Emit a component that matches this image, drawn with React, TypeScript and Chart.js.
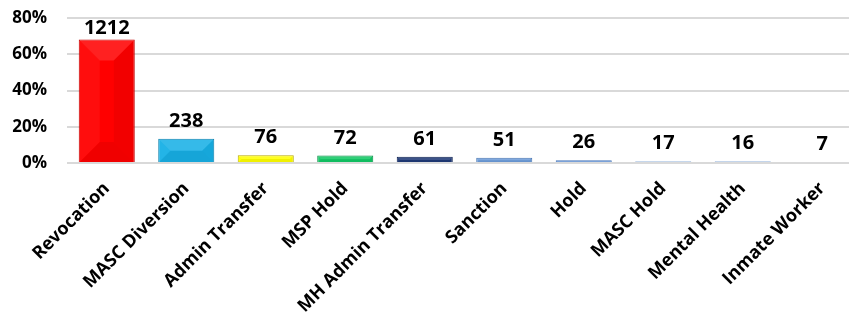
import React, { useEffect, useRef } from "react";
import { Chart, registerables } from "chart.js";

Chart.register(...registerables);

const categories = [
  "Revocation",
  "MASC Diversion",
  "Admin Transfer",
  "MSP Hold",
  "MH Admin Transfer",
  "Sanction",
  "Hold",
  "MASC Hold",
  "Mental Health",
  "Inmate Worker",
];
const counts = [1212, 238, 76, 72, 61, 51, 26, 17, 16, 7];
const sharePercent = [68.2, 13.4, 4.3, 4.1, 3.4, 2.9, 1.5, 1.0, 0.9, 0.4];
const barColors = [
  "#FF0000",
  "#18B0E6",
  "#FFFF00",
  "#12C865",
  "#1F3A78",
  "#6C9CDA",
  "#5E8ED2",
  "#8FB0DA",
  "#8FB0DA",
  "#D3DDEC",
];
const borderColors = [
  "#C00000",
  "#0B7FAA",
  "#B8A800",
  "#0A8A45",
  "#0F2250",
  "#4A76B0",
  "#4A78B8",
  "#86A8D6",
  "#86A8D6",
  "#C8D4E6",
];
const yMax = 80;
const yStep = 20;

const FONT = "'Open Sans', Lato, sans-serif";

const bevelPlugin = {
  id: "bevel",
  afterDatasetsDraw(chart: any) {
    const ctx = chart.ctx;
    const meta = chart.getDatasetMeta(0);
    ctx.save();
    meta.data.forEach((el: any) => {
      const p = el.getProps(["x", "y", "base", "width"], true);
      const left = p.x - p.width / 2 + 1;
      const right = p.x + p.width / 2 - 1;
      const top = Math.min(p.y, p.base) + 1;
      const bottom = Math.max(p.y, p.base);
      const h = bottom - top;
      const b = Math.min(p.width / 2, h / 2, 20);
      if (h < 3) return;
      ctx.fillStyle = "rgba(255,255,255,0.13)";
      ctx.beginPath();
      ctx.moveTo(left, top);
      ctx.lineTo(right, top);
      ctx.lineTo(right - b, top + b);
      ctx.lineTo(left + b, top + b);
      ctx.closePath();
      ctx.fill();
      ctx.fillStyle = "rgba(255,255,255,0.05)";
      ctx.beginPath();
      ctx.moveTo(left, top);
      ctx.lineTo(left + b, top + b);
      ctx.lineTo(left + b, bottom - b);
      ctx.lineTo(left, bottom);
      ctx.closePath();
      ctx.fill();
      ctx.fillStyle = "rgba(0,0,0,0.05)";
      ctx.beginPath();
      ctx.moveTo(right, top);
      ctx.lineTo(right - b, top + b);
      ctx.lineTo(right - b, bottom - b);
      ctx.lineTo(right, bottom);
      ctx.closePath();
      ctx.fill();
      ctx.fillStyle = "rgba(0,0,0,0.06)";
      ctx.beginPath();
      ctx.moveTo(left, bottom);
      ctx.lineTo(right, bottom);
      ctx.lineTo(right - b, bottom - b);
      ctx.lineTo(left + b, bottom - b);
      ctx.closePath();
      ctx.fill();
    });
    ctx.restore();
  },
};

const labelPlugin = {
  id: "countLabels",
  afterDatasetsDraw(chart: any) {
    const ctx = chart.ctx;
    const meta = chart.getDatasetMeta(0);
    const area = chart.chartArea;
    ctx.save();
    ctx.font = `bold 20px ${FONT}`;
    ctx.fillStyle = "#000000";
    ctx.textAlign = "center";
    ctx.textBaseline = "alphabetic";
    meta.data.forEach((el: any, i: number) => {
      const baseline = Math.max(el.y - 12, area.top + 16);
      ctx.fillText(String(counts[i]), el.x, baseline);
    });
    ctx.restore();
  },
};

export default function App() {
  const ref = useRef<HTMLCanvasElement | null>(null);
  useEffect(() => {
    if (!ref.current) return;
    const chart = new Chart(ref.current, {
      type: "bar",
      data: {
        labels: categories,
        datasets: [
          {
            data: sharePercent,
            backgroundColor: barColors,
            borderColor: borderColors,
            borderWidth: 1,
            categoryPercentage: 1,
            barPercentage: 0.705,
          },
        ],
      },
      options: {
        responsive: false,
        animation: false,
        devicePixelRatio: 1,
        layout: { padding: { top: 18, left: 0, right: 0, bottom: 0 } },
        plugins: {
          legend: { display: false },
          tooltip: { enabled: false },
        },
        scales: {
          x: {
            offset: true,
            grid: { display: false, drawTicks: false },
            border: { display: false },
            ticks: {
              color: "#000000",
              font: { family: FONT, size: 18, weight: "bold" },
              minRotation: 45,
              maxRotation: 45,
              padding: 15,
              autoSkip: false,
            },
            afterFit: (s: any) => {
              s.height = 150;
              s.paddingLeft = 0;
              s.paddingRight = 0;
            },
          },
          y: {
            min: 0,
            max: yMax,
            grid: { color: "#D9D9D9", lineWidth: 2, drawTicks: false },
            border: { display: false },
            ticks: {
              stepSize: yStep,
              color: "#000000",
              font: { family: FONT, size: 17, weight: "bold" },
              padding: 20,
              callback: (v: any) => `${v}%`,
            },
            afterFit: (s: any) => {
              s.width = 67;
              s.paddingTop = 0;
              s.paddingBottom = 0;
            },
          },
        },
      },
      plugins: [bevelPlugin, labelPlugin],
    });
    return () => chart.destroy();
  }, []);
  return (
    <div
      style={{
        position: "fixed",
        left: 0,
        top: 0,
        width: 849,
        height: 313,
        overflow: "hidden",
        background: "#ffffff",
      }}
    >
      <canvas ref={ref} width={862} height={313} style={{ display: "block" }} />
    </div>
  );
}
